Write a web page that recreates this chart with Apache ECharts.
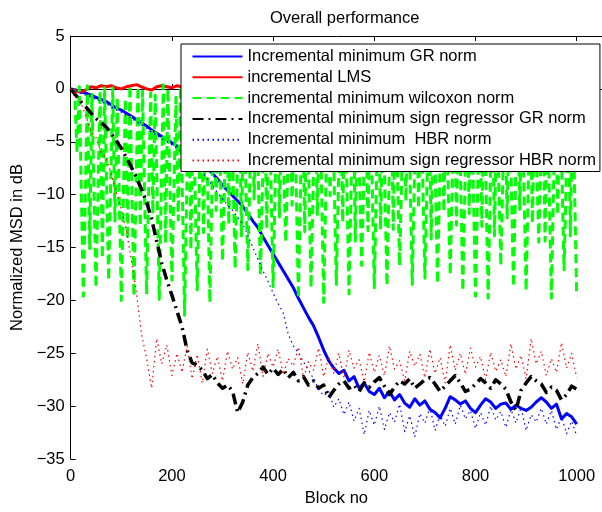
<!DOCTYPE html>
<html>
<head>
<meta charset="utf-8">
<title>Overall performance</title>
<script src="https://cdn.jsdelivr.net/npm/echarts@6/dist/echarts.min.js"></script>
<style>
  html, body { margin: 0; padding: 0; background: #fff; }
  #chart { width: 602px; height: 512px; }
</style>
</head>
<body>
<div id="chart"></div>
<script>
// Normalized MSD (dB) versus block number for six incremental adaptive schemes.

const seriesNames = [
  'Incremental minimum GR norm',
  'incremental LMS',
  'incremental minimum wilcoxon norm',
  'Incremental minimum sign regressor GR norm',
  'Incremental minimum  HBR norm',
  'Incremental minimum sign regressor HBR norm'
];

// Sampled every 10 blocks, from block 0 to block 1000.
const blockStep = 10;

const msdGR = [
  0, -0.1, -0.3, -0.4, -0.6, -0.8, -1.0, -1.2, -1.5, -1.8,
  -2.0, -2.3, -2.6, -2.9, -3.2, -3.5, -3.9, -4.2, -4.5, -4.8,
  -5.1, -5.4, -5.7, -5.9, -6.1, -6.5, -7.0, -7.5, -8.0, -8.5,
  -9.1, -9.6, -10.1, -10.6, -11.1, -11.8, -12.5, -13.1, -14.0, -14.8,
  -15.6, -16.4, -17.2, -18.0, -18.8, -19.8, -20.7, -21.6, -22.4, -23.5,
  -24.7, -25.7, -26.4, -26.9, -26.6, -27.6, -27.2, -28.3, -27.8, -28.6,
  -28.9, -28.3, -29.2, -28.6, -29.4, -28.9, -29.7, -30.1, -29.3, -29.9,
  -29.5, -30.3, -30.6, -31.1, -30.2, -29.1, -29.4, -29.8, -29.5, -30.2,
  -30.6, -29.9, -29.3, -29.6, -30.2, -29.8, -29.7, -30.3, -29.9, -30.2,
  -30.4, -30.1, -29.6, -29.2, -29.6, -30.2, -29.8, -31.2, -30.7, -31.0,
  -31.7
];

const msdLMS = [
  0, -0.2, -0.3, -0.1, 0.2, 0.1, 0.3, 0.2, 0.3, 0.1,
  0.0, 0.2, 0.3, 0.4, 0.2, 0.0, -0.1, 0.2, 0.3, 0.2,
  0.1, 0.3, 0.2, 0.0, 0.1, 0.3, 0.2, 0.1, 0.3, 0.2,
  0.0, 0.2, 0.1, 0.3, 0.2, 0.1, 0.0, 0.2, 0.3, 0.1,
  0.2, 0.0, 0.1, 0.3, 0.2, 0.1, 0.2, 0.0, 0.1, 0.2,
  0.3, 0.1, 0.0, 0.2, 0.1, 0.3, 0.2, 0.0, 0.1, 0.2,
  0.1, 0.3, 0.2, 0.1, 0.0, 0.2, 0.1, 0.3, 0.2, 0.0,
  0.1, 0.2, 0.3, 0.1, 0.2, 0.0, 0.1, 0.2, 0.3, 0.1,
  0.0, 0.2, 0.1, 0.3, 0.2, 0.1, 0.2, 0.0, 0.1, 0.3,
  0.2, 0.1, 0.0, 0.2, 0.1, 0.3, 0.2, 0.1, 0.0, 0.2,
  0.1
];

const msdSignGR = [
  0, -0.6, -1.2, -1.7, -2.3, -2.8, -3.2, -3.6, -4.2, -4.9,
  -5.6, -6.5, -7.4, -8.4, -9.5, -10.7, -12.3, -14.4, -16.5, -18.1,
  -19.5, -21.0, -22.5, -24.7, -25.9, -26.1, -26.6, -27.4, -27.0, -27.8,
  -28.3, -28.0, -28.6, -30.6, -29.6, -28.0, -27.3, -26.9, -26.3, -27.0,
  -26.4, -27.0, -26.5, -27.3, -26.8, -27.6, -27.2, -28.0, -27.6, -28.3,
  -28.0, -29.2, -28.5, -27.9, -27.6, -28.3, -28.0, -28.6, -27.8, -28.2,
  -27.7, -27.3, -28.1, -28.9, -28.2, -27.6, -27.9, -27.4, -28.3, -27.9,
  -27.5, -27.3, -27.9, -28.6, -28.1, -27.6, -27.1, -27.8, -28.6, -28.4,
  -27.9, -27.4, -27.8, -28.3, -27.5, -27.9, -28.4, -29.6, -30.4, -28.5,
  -27.8, -27.2, -27.6, -27.9, -28.7, -28.2, -28.5, -29.4, -28.9, -28.1,
  -28.4
];

const msdHBR = [
  0, -0.2, -0.4, -0.6, -0.8, -1.0, -1.2, -1.4, -1.7, -2.0,
  -2.2, -2.5, -2.8, -3.1, -3.4, -3.7, -4.1, -4.4, -4.7, -5.0,
  -5.3, -5.6, -6.0, -6.4, -6.9, -7.4, -7.9, -8.5, -9.1, -9.8,
  -10.4, -11.0, -11.5, -12.1, -12.8, -13.8, -15.0, -16.1, -17.2, -18.2,
  -19.3, -20.3, -21.2, -23.2, -24.3, -25.0, -25.8, -26.6, -27.4, -28.4,
  -29.0, -28.6, -30.1, -29.3, -30.8, -29.6, -31.4, -30.2, -32.7, -30.4,
  -31.8, -30.0, -32.2, -30.6, -31.5, -29.8, -32.4, -30.9, -32.9, -30.7,
  -31.6, -30.1, -32.3, -30.8, -31.9, -30.2, -31.7, -29.9, -31.2, -30.4,
  -32.1, -30.6, -31.8, -30.0, -31.3, -30.5, -32.0, -30.3, -31.6, -30.1,
  -32.3, -30.8, -31.5, -30.2, -31.7, -30.4, -32.2, -31.0, -32.6, -31.4,
  -32.8
];

const msdSignHBR = [
  0, -0.5, -1.3, -2.5, -4.0, -4.6, -6.0, -6.5, -8.0, -9.8,
  -11.4, -13.4, -16.2, -19.3, -23.2, -25.5, -28.3, -23.6, -26.0, -24.2,
  -27.1, -25.0, -26.8, -24.3, -27.4, -25.1, -27.8, -24.6, -26.9, -25.3,
  -27.6, -24.8, -26.5, -25.4, -27.9, -24.9, -26.7, -24.1, -27.2, -25.0,
  -26.3, -24.6, -27.0, -25.5, -26.2, -24.4, -27.3, -25.8, -26.6, -24.5,
  -27.2, -25.3, -26.9, -25.0, -27.4, -24.7, -26.4, -25.6, -27.7, -24.9,
  -26.8, -25.2, -27.1, -24.3, -26.5, -25.7, -27.6, -24.8, -26.2, -25.1,
  -27.3, -24.6, -26.9, -25.4, -27.8, -24.2, -26.6, -25.0, -27.0, -24.5,
  -26.3, -25.3, -27.5, -24.9, -26.7, -25.6, -27.2, -24.1, -26.5, -25.2,
  -27.4, -23.6, -26.0, -24.8, -27.1, -25.5, -26.8, -24.0, -26.4, -25.0,
  -27.3
];

// Wilcoxon curve, one 25-block cycle at a time: a crest, a shallow dip at
// mid-cycle, a second crest, then the deep trough that ends the cycle.
const wilcoxonCycle = 25;
const wilcoxonNodeOffsets = [8, 12.5, 17, 25];
const wilcoxonCrestsA = [
  -0.3, 0.3, -0.2, 0.1, -0.9, 0.2, -0.4, 0.4, -0.8, 0.0,
  -0.3, 0.3, -1.2, -0.1, 0.2, -0.7, 0.1, -0.5, 0.3, -0.9,
  0.0, -0.4, 0.2, -1.1, -0.2, 0.3, -0.6, 0.1, -0.8, 0.2,
  -0.3, 0.0, -1.0, 0.2, -0.5, 0.3, -0.7, 0.1, -0.2, -0.9
];
const wilcoxonShallow = [
  -6.0, -15.1, -16.0, -12.5, -14.2, -13.0, -11.8, -14.6, -12.4, -15.2,
  -13.6, -11.5, -12.8, -13.9, -10.4, -13.2, -12.1, -11.0, -13.5, -12.0,
  -10.1, -12.6, -14.4, -13.4, -13.3, -13.3, -10.6, -11.3, -14.2, -11.6,
  -12.9, -11.8, -13.0, -13.9, -12.2, -11.4, -12.7, -14.4, -11.9, -13.9
];
const wilcoxonCrestsB = [
  0.2, -0.5, 0.1, -0.8, 0.3, -0.2, -0.6, 0.0, 0.2, -1.0,
  0.1, -0.4, 0.3, -0.7, 0.0, -0.3, -0.9, 0.2, -0.1, 0.3,
  -0.6, 0.1, -0.2, 0.2, -0.8, -0.1, 0.3, -0.5, 0.0, -0.7,
  0.2, -0.4, 0.1, -0.9, 0.3, -0.2, 0.0, -0.6, 0.2, -0.3
];
const wilcoxonDeep = [
  -19.6, -18.8, -18.1, -20.0, -19.6, -19.4, -19.9, -18.1, -21.4, -19.0,
  -20.2, -16.3, -17.0, -17.1, -17.6, -18.7, -14.5, -19.8, -18.8, -20.2,
  -18.5, -19.4, -16.7, -18.8, -18.6, -16.7, -18.5, -17.9, -18.4, -17.6,
  -19.1, -19.6, -19.8, -16.7, -18.7, -19.1, -14.5, -19.8, -17.1, -19.6
];

const xTickValues = [0, 200, 400, 600, 800, 1000];

function onGrid(values) {
  return values.map((v, i) => [i * blockStep, v]);
}

function wilcoxonPoints() {
  const pts = [[0, 0]];
  for (let k = 0; k < wilcoxonDeep.length; k++) {
    const base = k * wilcoxonCycle;
    const vals = [wilcoxonCrestsA[k], wilcoxonShallow[k], wilcoxonCrestsB[k], wilcoxonDeep[k]];
    wilcoxonNodeOffsets.forEach((off, j) => pts.push([base + off, vals[j]]));
  }
  return pts;
}

const FONT = 'Liberation Sans, Arial, Helvetica, sans-serif';
const FS = 16.5;

function minusLabel(v) {
  return v < 0 ? '\u2212' + Math.abs(v) : String(v);
}

function lineSeries(name, data, color, width, type) {
  return {
    name: name,
    type: 'line',
    data: data,
    symbol: 'none',
    showSymbol: false,
    animation: false,
    silent: true,
    lineStyle: { color: color, width: width, type: type, cap: 'butt', join: 'round' },
    itemStyle: { color: color }
  };
}

const chart = echarts.init(document.getElementById('chart'), null, { renderer: 'canvas' });

chart.setOption({
  animation: false,
  backgroundColor: '#ffffff',
  title: {
    text: 'Overall performance',
    left: 265,
    top: 5,
    textStyle: { fontFamily: FONT, fontSize: FS, fontWeight: 'normal', color: '#000' }
  },
  grid: { left: 70.7, right: -7, top: 36, bottom: 45, show: false },
  legend: {
    orient: 'vertical',
    left: 181,
    top: 44,
    padding: [3.5, 4, 2, 10.5],
    itemWidth: 50,
    itemHeight: 14,
    itemGap: 2.8,
    backgroundColor: '#ffffff',
    borderColor: '#000000',
    borderWidth: 1,
    borderRadius: 0,
    selectedMode: false,
    itemStyle: { opacity: 0 },
    textStyle: { fontFamily: FONT, fontSize: FS, lineHeight: 18, color: '#000' },
    data: seriesNames
  },
  xAxis: [
    {
      type: 'value',
      min: 0,
      max: 1050,
      interval: 200,
      name: 'Block no',
      nameLocation: 'middle',
      nameGap: 27,
      nameTextStyle: { fontFamily: FONT, fontSize: FS, color: '#000' },
      axisLine: { show: true, lineStyle: { color: '#000', width: 1 } },
      axisTick: { show: true, inside: true, length: 5, lineStyle: { color: '#000' } },
      axisLabel: {
        fontFamily: FONT, fontSize: FS, color: '#000', margin: 9,
        showMaxLabel: false,
        formatter: v => (xTickValues.indexOf(v) >= 0 ? String(v) : '')
      },
      splitLine: { show: false }
    },
    {
      type: 'value',
      position: 'top',
      min: 0,
      max: 1050,
      interval: 200,
      axisLine: { show: true, lineStyle: { color: '#000', width: 1 } },
      axisTick: { show: true, inside: true, length: 5, lineStyle: { color: '#000' } },
      axisLabel: { show: false },
      splitLine: { show: false }
    }
  ],
  yAxis: {
    type: 'value',
    min: -35,
    max: 5,
    interval: 5,
    name: 'Normalized MSD in dB',
    nameLocation: 'middle',
    nameGap: 39,
    nameTextStyle: { fontFamily: FONT, fontSize: FS, color: '#000' },
    axisLine: { show: true, lineStyle: { color: '#000', width: 1 } },
    axisTick: { show: true, inside: true, length: 5, lineStyle: { color: '#000' } },
    axisLabel: { fontFamily: FONT, fontSize: FS, color: '#000', margin: 6, formatter: minusLabel },
    splitLine: { show: false }
  },
  series: [
    lineSeries(seriesNames[0], onGrid(msdGR), '#0000ff', 3, 'solid'),
    lineSeries(seriesNames[1], onGrid(msdLMS), '#ff0000', 3, 'solid'),
    lineSeries(seriesNames[2], wilcoxonPoints(), '#00ff00', 3, [9, 5]),
    lineSeries(seriesNames[3], onGrid(msdSignGR), '#000000', 3.5, [11, 5, 2, 5]),
    lineSeries(seriesNames[4], onGrid(msdHBR), '#0000ff', 1.2, [1.5, 3.5]),
    lineSeries(seriesNames[5], onGrid(msdSignHBR), '#ff0000', 1.2, [1.5, 3.5])
  ]
});
</script>
</body>
</html>
